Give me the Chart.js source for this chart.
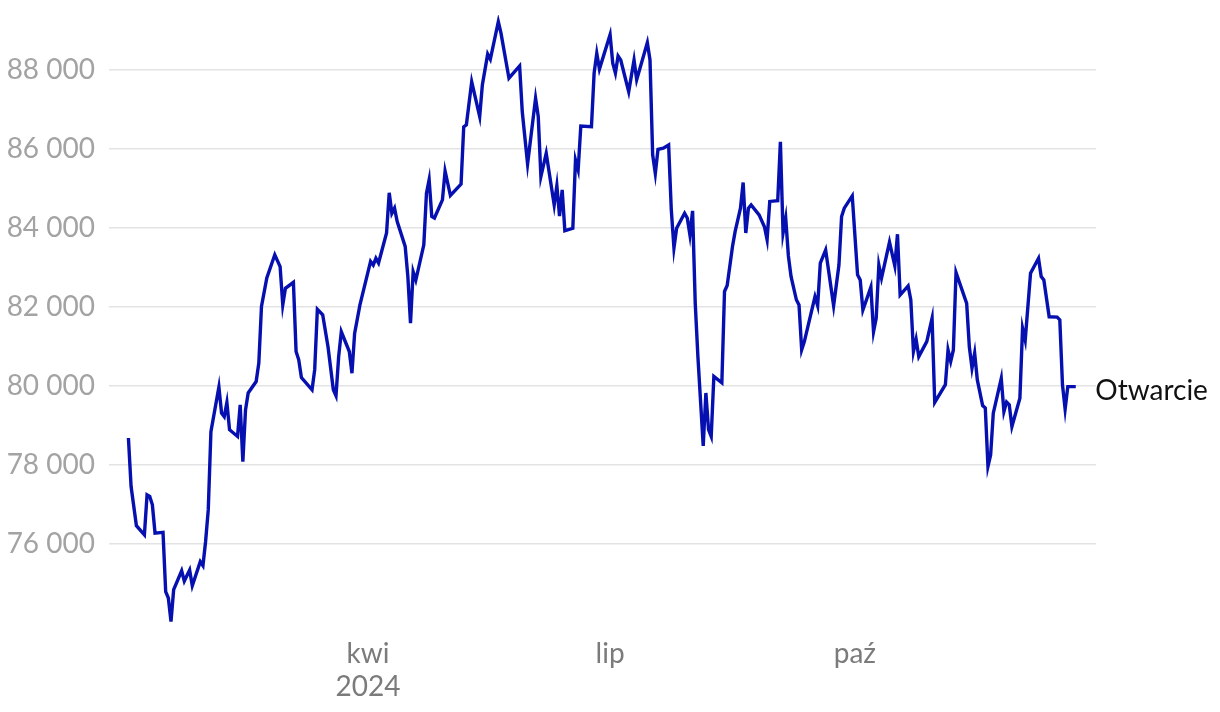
<!DOCTYPE html>
<html>
<head>
<meta charset="utf-8">
<script src="https://cdn.jsdelivr.net/npm/chart.js@4.4.1/dist/chart.umd.min.js"></script>
<style>
  html, body { margin: 0; padding: 0; background: #ffffff; }
  #wrap { width: 1220px; height: 712px; position: relative; }
</style>
</head>
<body>
<div id="wrap"><canvas id="c" width="1220" height="712"></canvas></div>
<script>
// Day of year 2024 (0 = 1 Jan 2024)
const days = [
  1, 2, 4, 7, 8, 9, 10, 11, 14, 15, 16, 17, 18, 21, 22, 24, 25, 28, 29, 30,
  31, 32, 35, 36, 37, 38, 39, 42, 43, 44, 45, 46, 49, 50, 51, 53, 56, 58, 59, 60,
  63, 64, 65, 66, 70, 71, 72, 74, 76, 78, 79, 80, 81, 84, 85, 86, 88, 92, 93, 94,
  95, 98, 99, 100, 101, 102, 105, 106, 107, 108, 109, 112, 113, 114, 115, 116, 119, 120, 122, 126,
  127, 128, 130, 133, 134, 136, 137, 140, 141, 144, 148, 149, 151, 154, 155, 156, 158, 161, 162, 163,
  164, 165, 168, 169, 170, 171, 175, 176, 177, 178, 182, 183, 184, 185, 186, 189, 191, 192, 196, 197,
  198, 199, 200, 202, 204, 205, 206, 207, 210, 211, 212, 213, 214, 215, 217, 218, 219, 220, 221, 224,
  225, 226, 228, 229, 231, 232, 233, 234, 235, 238, 240, 241, 242, 245, 246, 247, 248, 249, 250, 252,
  253, 254, 255, 259, 260, 261, 263, 266, 268, 269, 270, 273, 275, 276, 277, 280, 281, 282, 283, 284,
  287, 289, 290, 291, 294, 295, 296, 297, 298, 301, 303, 304, 308, 309, 310, 311, 312, 316, 317, 318,
  319, 320, 322, 323, 324, 325, 326, 329, 330, 331, 332, 333, 336, 337, 338, 340, 343, 344, 345, 347,
  350, 351, 352, 353, 354, 357
];
// Opening value (Otwarcie)
const values = [
  78680, 77450, 76460, 76230, 77240, 77200, 76990, 76270, 76290, 74790, 74630, 74030, 74840, 75320, 75060, 75340, 74940, 75550, 75450, 76060,
  76860, 78840, 79970, 79310, 79220, 79580, 78890, 78720, 79520, 78080, 79390, 79820, 80110, 80580, 82010, 82730, 83320, 83020, 82050, 82470,
  82620, 80870, 80660, 80210, 79900, 80410, 81940, 81800, 80990, 79900, 79750, 80740, 81370, 80870, 80320, 81330, 82050, 83150, 83060, 83230,
  83110, 83870, 84890, 84370, 84500, 84160, 83530, 82770, 81590, 82890, 82680, 83570, 84880, 85220, 84290, 84250, 84710, 85440, 84820, 85110,
  86560, 86610, 87700, 86820, 87620, 88400, 88270, 89220, 88930, 87790, 88100, 86940, 85620, 87280, 86820, 85300, 85890, 84580, 85070, 84300,
  84960, 83930, 83990, 85720, 85470, 86580, 86560, 87920, 88420, 88020, 88890, 88170, 87920, 88350, 88250, 87450, 88250, 87750, 88690, 88250,
  85850, 85380, 85990, 86020, 86100, 84460, 83490, 83990, 84370, 84250, 83820, 84430, 82090, 80740, 78480, 79820, 78890, 78720, 80240, 80080,
  82390, 82540, 83530, 83910, 84500, 85150, 83870, 84500, 84580, 84330, 84030, 83700, 84670, 84690, 86180, 83870, 84250, 83290, 82770, 82180,
  82050, 80910, 81120, 82260, 82030, 83110, 83440, 82030, 83060, 84290, 84500, 84810, 82810, 82680, 81920, 82500, 81370, 81710, 83060, 82730,
  83640, 83040, 83840, 82300, 82530, 82180, 80870, 81180, 80740, 81120, 81710, 79580, 80030, 80910, 80620, 80910, 82870, 82090, 80990, 80450,
  80830, 80150, 79500, 79440, 77960, 78250, 79310, 80190, 79350, 79590, 79520, 78970, 79690, 81460, 81160, 82850, 83230, 82770, 82680, 81750,
  81740, 81670, 80030, 79410, 79980, 79980
];
const seriesName = 'Otwarcie';
const xTickDays = [91, 182, 274];
const xTickLabels = [['kwi', '2024'], 'lip', 'paź'];
const yTickValues = [76000, 78000, 80000, 82000, 84000, 86000, 88000];
const yTickLabels = ['76 000', '78 000', '80 000', '82 000', '84 000', '86 000', '88 000'];

const points = days.map((d, i) => ({ x: d, y: values[i] }));

const endLabel = {
  id: 'endLabel',
  afterDatasetsDraw(chart) {
    const meta = chart.getDatasetMeta(0);
    const last = meta.data[meta.data.length - 1];
    const ctx = chart.ctx;
    ctx.save();
    ctx.font = '28px Lato';
    ctx.fillStyle = '#111111';
    ctx.textAlign = 'left';
    ctx.textBaseline = 'middle';
    ctx.fillText(seriesName, last.x + 19.5, last.y + 4);
    ctx.restore();
  }
};

new Chart(document.getElementById('c'), {
  type: 'line',
  data: {
    datasets: [{
      label: seriesName,
      data: points,
      borderColor: '#0610b0',
      borderWidth: 3.4,
      pointRadius: 0,
      tension: 0,
      fill: false
    }]
  },
  options: {
    responsive: false,
    animation: false,
    layout: { padding: { top: 15, right: 124, left: 0, bottom: 0 } },
    plugins: { legend: { display: false }, tooltip: { enabled: false } },
    scales: {
      x: {
        type: 'linear',
        min: -6.3,
        max: 364.6,
        grid: { display: false, drawTicks: false },
        border: { display: false },
        afterBuildTicks(scale) { scale.ticks = xTickDays.map(v => ({ value: v })); },
        afterFit(scale) { scale.height = 84; scale.paddingLeft = 0; scale.paddingRight = 0; },
        ticks: {
          autoSkip: false,
          maxRotation: 0,
          padding: 9,
          color: '#7b7b7b',
          font: { family: 'Lato', size: 28, lineHeight: 1.2 },
          callback(value, index) { return xTickLabels[index]; }
        }
      },
      y: {
        type: 'linear',
        min: 73870,
        max: 89390,
        grid: { color: '#e3e3e3', lineWidth: 1.5, drawTicks: false },
        border: { display: false },
        afterBuildTicks(scale) { scale.ticks = yTickValues.map(v => ({ value: v })); },
        afterFit(scale) { scale.width = 109; scale.paddingTop = 0; scale.paddingBottom = 0; },
        ticks: {
          padding: 14,
          color: '#a3a3a3',
          font: { family: 'Lato', size: 28 },
          callback(value, index) { return yTickLabels[index]; }
        }
      }
    }
  },
  plugins: [endLabel]
});
</script>
</body>
</html>
